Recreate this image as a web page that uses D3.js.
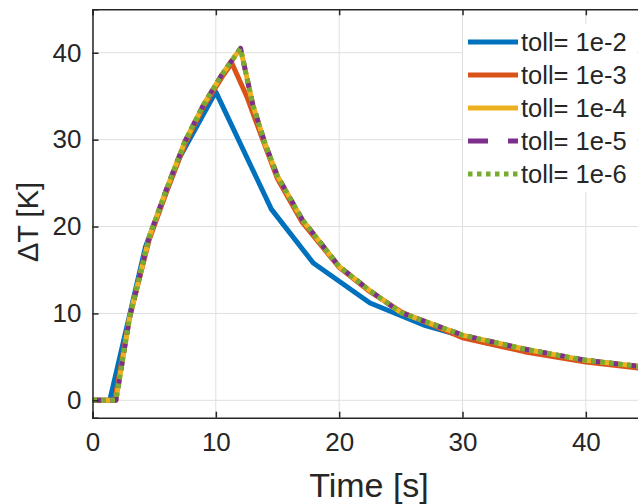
<!DOCTYPE html>
<html><head><meta charset="utf-8">
<script src="https://cdn.jsdelivr.net/npm/d3@7"></script>
<style>body{margin:0;background:#fff}svg{display:block}</style>
</head><body><svg id="c" width="638" height="504"></svg>
<script>
const seriesNames = ["toll= 1e-2","toll= 1e-3","toll= 1e-4","toll= 1e-5","toll= 1e-6"];
const seriesColors = ["#0072BD","#D95319","#EDB120","#7E2F8E","#77AC30"];
const xTicks = [0,10,20,30,40];
const yTicks = [0,10,20,30,40];
const toll2 = [[0,0],[1.4,0],[4.3,17.7],[7,27.8],[10,35.5],[14.5,22],[17.9,15.8],[22.5,11.2],[27,8.6],[32,6.6],[38,5.0],[45,3.7]];
const toll3 = [[0,0],[1.8,0],[3,9.5],[4.6,18.5],[6,24],[7.5,29.5],[9,33.8],[10.5,37.2],[11.3,38.8],[12.5,35],[13.8,30],[15,25.5],[17,20.5],[20,15.3],[22.5,12.5],[25,10.2],[30,7.2],[35,5.6],[40,4.4],[45,3.6]];
const toll4 = [[0,0],[1.9,0],[3,9.5],[4.6,18.8],[6,24.3],[7.5,29.8],[9,34],[10.5,37.5],[12,40.5],[13,34],[14,29.5],[15,25.8],[17,20.8],[20,15.4],[22.5,12.6],[25,10.1],[30,7.5],[35,5.9],[40,4.6],[45,3.8]];
const toll5 = [[0,0],[1.9,0],[3,9.5],[4.6,18.8],[6,24.3],[7.5,29.8],[9,34],[10.5,37.5],[12,40.5],[13,34],[14,29.5],[15,25.8],[17,20.8],[20,15.4],[22.5,12.6],[25,10.1],[30,7.5],[35,5.9],[40,4.6],[45,3.8]];
const toll6 = [[0,0],[1.9,0],[3,9.5],[4.6,18.8],[6,24.3],[7.5,29.8],[9,34],[10.5,37.5],[12,40.5],[13,34],[14,29.5],[15,25.8],[17,20.8],[20,15.4],[22.5,12.6],[25,10.1],[30,7.5],[35,5.9],[40,4.6],[45,3.8]];
const allSeries = [toll2,toll3,toll4,toll5,toll6];
const dashes = [null,null,null,"9,9","4.5,4.5"];

const svg = d3.select("#c");
const L=92.5, T=9.3, B=417.7, R=647.5;
const x = d3.scaleLinear().domain([0,45]).range([L,R]);
const y = d3.scaleLinear().domain([-2,45]).range([B,T]);
const txt="#262626";
const font="Liberation Sans, Arial, sans-serif";

// grid
const g = svg.append("g");
g.selectAll(".gx").data(xTicks).join("line").attr("x1",d=>x(d)).attr("x2",d=>x(d)).attr("y1",T).attr("y2",B).attr("stroke","#dfdfdf").attr("stroke-width",1);
g.selectAll(".gy").data(yTicks).join("line").attr("y1",d=>y(d)).attr("y2",d=>y(d)).attr("x1",L).attr("x2",R).attr("stroke","#dfdfdf").attr("stroke-width",1);

// lines
svg.append("defs").append("clipPath").attr("id","clip").append("rect").attr("x",L).attr("y",T).attr("width",R-L).attr("height",B-T);
const line = d3.line().x(d=>x(d[0])).y(d=>y(d[1]));
const lg = svg.append("g").attr("clip-path","url(#clip)");
allSeries.forEach((s,i)=>{
  lg.append("path").datum(s).attr("d",line).attr("fill","none").attr("stroke",seriesColors[i])
    .attr("stroke-width",5).attr("stroke-linejoin","round").attr("stroke-dasharray",dashes[i]);
});

// axes
const xa = svg.append("g").attr("transform",`translate(0,${B})`).call(d3.axisBottom(x).tickValues(xTicks).tickSize(-6).tickPadding(15));
const ya = svg.append("g").attr("transform",`translate(${L},0)`).call(d3.axisLeft(y).tickValues(yTicks).tickSize(-6).tickPadding(11));
const xt = svg.append("g").attr("transform",`translate(0,${T})`).call(d3.axisTop(x).tickValues(xTicks).tickSize(-6).tickFormat(""));
[xa,ya,xt].forEach(a=>{
  a.selectAll("path").attr("stroke",txt).attr("stroke-width",1.5);
  a.selectAll(".tick line").attr("stroke",txt).attr("stroke-width",1.5);
  a.selectAll("text").attr("fill",txt).style("font-family",font).style("font-size","26px");
});

// axis labels
svg.append("text").attr("x",369).attr("y",497).attr("text-anchor","middle").attr("fill",txt)
  .style("font-family",font).style("font-size","34px").text("Time [s]");
svg.append("text").attr("transform","translate(38,222) rotate(-90)").attr("text-anchor","middle").attr("fill",txt)
  .style("font-family",font).style("font-size","29px").text("ΔT [K]");

// legend
const leg = svg.append("g");
leg.append("rect").attr("x",463).attr("y",24).attr("width",174).attr("height",168).attr("fill","#fff");
seriesNames.forEach((n,i)=>{
  const yy = 42 + i*33;
  leg.append("line").attr("x1",468).attr("x2",518).attr("y1",yy).attr("y2",yy).attr("stroke",seriesColors[i])
    .attr("stroke-width",5).attr("stroke-dasharray",i===3?"20,20":dashes[i]);
  leg.append("text").attr("x",521).attr("y",yy).attr("dy","0.36em").attr("fill",txt)
    .style("font-family",font).style("font-size","25.5px").text(n);
});
</script></body></html>
